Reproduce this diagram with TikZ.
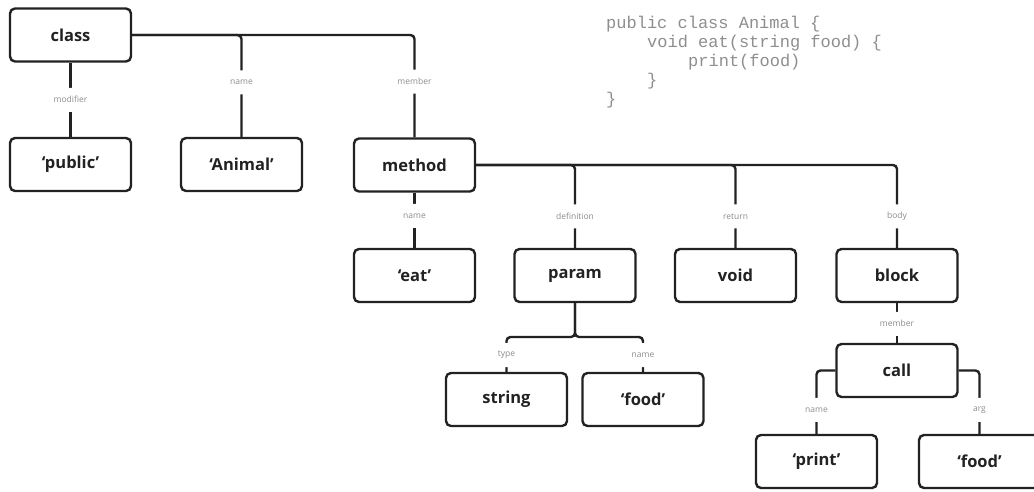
\documentclass[tikz,border=0pt]{standalone}
\usepackage{fontspec}
\setmainfont{Open Sans}
\newfontfamily\codefont{Liberation Mono}
\definecolor{ink}{HTML}{222222}
\definecolor{tagc}{HTML}{8C8C8C}
\definecolor{codec}{HTML}{8E8E8E}

\begin{document}
\begin{tikzpicture}[x=1pt,y=-1pt,
  astnode/.style={draw=ink, line width=2.4pt, rounded corners=5pt,
    minimum width=121pt, minimum height=53pt, inner sep=0pt,
    font=\fontsize{16.5}{18}\selectfont\bfseries, text=ink},
  conn/.style={draw=ink, line width=2.4pt, rounded corners=4pt},
  tag/.style={fill=white, font=\fontsize{8.5}{10}\selectfont, text=tagc,
    inner xsep=2pt, inner ysep=0pt, minimum height=24pt},
  code/.style={anchor=base west, inner sep=0pt,
    font=\codefont\fontsize{17}{19}\selectfont, text=codec}]

  \useasboundingbox (0,0) rectangle (1034,491);
  \clip (0,0) rectangle (1034,491);

  % tree nodes
  \node[astnode] (class)  at (70.5,35)    {class};
  \node[astnode] (public) at (70.5,164.5) {`public'};
  \node[astnode] (animal) at (241.5,164.5) {`Animal'};
  \node[astnode] (method) at (414.5,165)  {method};
  \node[astnode] (eat)    at (414.5,275.5) {`eat'};
  \node[astnode] (param)  at (575,275.5)  {param};
  \node[astnode] (void)   at (735.5,275.5) {void};
  \node[astnode] (block)  at (897,275.5)  {block};
  \node[astnode] (string) at (506.5,399.5) {string};
  \node[astnode] (pfood)  at (643,399.5)  {`food'};
  \node[astnode] (call)   at (897,370.5)  {call};
  \node[astnode] (print)  at (816.5,461.5) {`print'};
  \node[astnode] (afood)  at (979.5,461.5) {`food'};

  \coordinate (pj) at (575,337);

  % connectors with their field labels
  \draw[conn] (class.south) -- node[tag]{modifier} (public.north);
  \draw[conn] (class.east) -| node[tag,pos=0.733]{name} (animal.north);
  \draw[conn] (class.east) -| node[tag,pos=0.728]{member} (method.north);

  \draw[conn] (method.south) -- node[tag,pos=0.42]{name} (eat.north);
  \draw[conn] (method.east) -| node[tag,pos=0.81]{definition} (param.north);
  \draw[conn] (method.east) -| node[tag,pos=0.81]{return} (void.north);
  \draw[conn] (method.east) -| node[tag,pos=0.81]{body} (block.north);

  \draw[conn] (param.south) -- (pj) -| node[tag,pos=0.76]{type} (string.north);
  \draw[conn] (param.south) -- (pj) -| node[tag,pos=0.76]{name} (pfood.north);

  \draw[conn] (block.south) -- node[tag,pos=0.52]{member} (call.north);
  \draw[conn] (call.west) -| node[tag,pos=0.81]{name} (print.north);
  \draw[conn] (call.east) -| node[tag,pos=0.81]{arg} (afood.north);

  % source code
  \node[code] (code1) at (606,28)  {public class Animal \{};
  \node[code] (code2) at (647,47)  {void eat(string food) \{};
  \node[code] (code3) at (688,66)  {print(food)};
  \node[code] (code4) at (647,85)  {\}};
  \node[code] (code5) at (606,104) {\}};
\end{tikzpicture}
\end{document}
